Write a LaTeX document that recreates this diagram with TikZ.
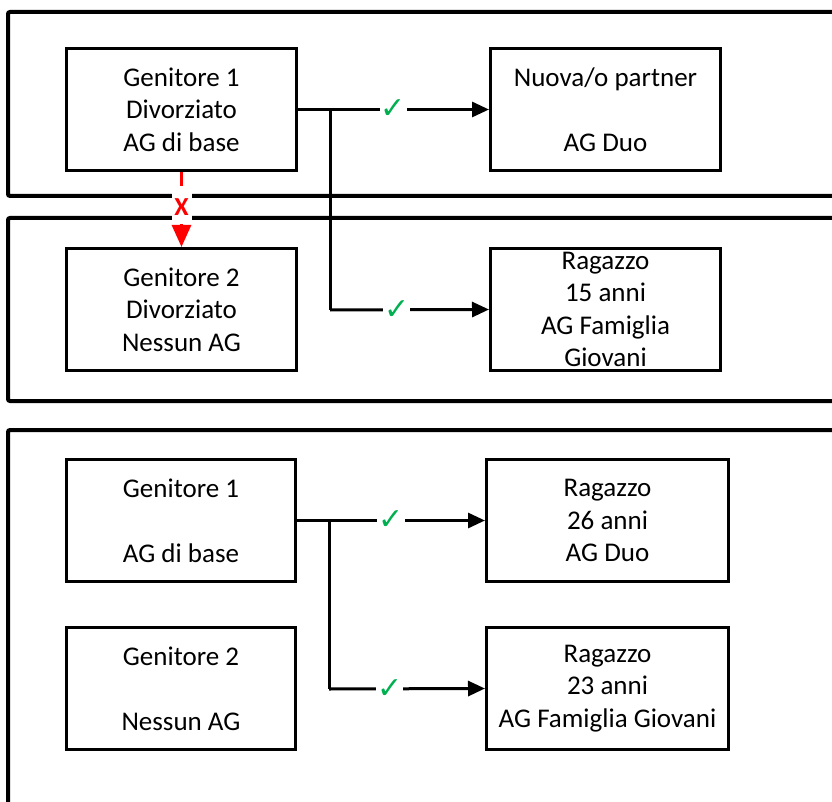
\documentclass[tikz,border=0pt]{standalone}
\usepackage{fontspec}
\setmainfont{Carlito}
\newfontfamily\symfont{DejaVu Sans}
\usetikzlibrary{arrows.meta}
\definecolor{okgreen}{RGB}{0,176,80}
\begin{document}
\begin{tikzpicture}[x=1pt,y=-1pt,
  box/.style={draw,line width=3pt,minimum height=122pt,align=center,inner sep=0pt,font=\fontsize{27}{32.5}\selectfont},
  frame/.style={line width=4pt,rounded corners=2pt},
  conn/.style={line width=3pt,-{Triangle[length=17pt,width=15pt]}},
  ok/.style={fill=white,inner sep=1pt,text=okgreen,font=\symfont\fontsize{30}{30}\selectfont},
]
\useasboundingbox (0,0) rectangle (832,802);
\clip (0,0) rectangle (832,802);
% frames
\draw[frame] (840,12) -- (8,12) -- (8,196) -- (840,196);
\draw[frame] (840,218) -- (8,218) -- (8,401) -- (840,401);
\draw[frame] (840,430) -- (8,430) -- (8,820);
% boxes
\node[box,minimum width=230pt] (G1) at (181.5,109.5) {Genitore 1\\Divorziato\\AG di base};
\node[box,minimum width=230pt] (N) at (605.5,109.5) {Nuova/o partner\\\strut\\AG Duo};
\node[box,minimum width=230pt] (G2) at (181.5,309.5) {Genitore 2\\Divorziato\\Nessun AG};
\node[box,minimum width=230pt] (R15) at (605.5,309.5) {Ragazzo\\15 anni\\AG Famiglia\\Giovani};
\node[box,minimum width=229pt] (G1b) at (181,520.5) {Genitore 1\\\strut\\AG di base};
\node[box,minimum width=242pt] (R26) at (607.5,520.5) {Ragazzo\\26 anni\\AG Duo};
\node[box,minimum width=229pt] (G2b) at (181,688.5) {Genitore 2\\\strut\\Nessun AG};
\node[box,minimum width=242pt] (R23) at (607.5,688.5) {Ragazzo\\23 anni\\AG Famiglia Giovani};
% junctions
\coordinate (j1) at (330,110);
\coordinate (k1) at (330,310);
\coordinate (j2) at (329,521);
\coordinate (k2) at (329,689);
% connectors
\draw[conn] (G1.east) -- node[ok]{✓} (N.west);
\draw[line width=3pt] (j1) -- (k1);
\draw[conn] (k1) -- node[ok,pos=0.42]{✓} (R15.west);
\draw[conn] (G1b.east) -- node[ok]{✓} (R26.west);
\draw[line width=3pt] (j2) -- (k2);
\draw[conn] (k2) -- node[ok,pos=0.39]{✓} (R23.west);
% red dashed arrow
\draw[red,line width=3pt,dash pattern=on 14pt off 7pt,-{Triangle[length=22pt,width=19pt]}]
  (G1.south) -- node[pos=0.47,fill=white,inner sep=0pt,minimum width=20pt,minimum height=34pt,text=red,font=\bfseries\fontsize{26}{26}\selectfont]{X} (G2.north);
\end{tikzpicture}
\end{document}
